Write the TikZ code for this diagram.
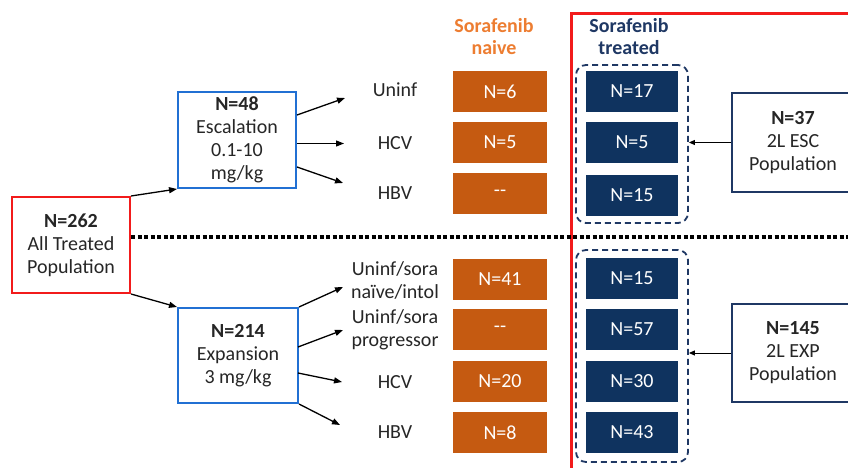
\documentclass[tikz,border=0pt]{standalone}
\usepackage{fontspec}
\setmainfont{Carlito}
\usetikzlibrary{arrows.meta}
\definecolor{orfill}{HTML}{C55A11}
\definecolor{orhead}{HTML}{ED7D31}
\definecolor{navyfill}{HTML}{0F335F}
\definecolor{navyhead}{HTML}{1F3864}
\definecolor{bluebox}{HTML}{2170D3}
\definecolor{txt}{HTML}{262626}
\definecolor{redline}{HTML}{F21B1B}
\begin{document}
\begin{tikzpicture}[x=1pt,y=-1pt,
  every node/.style={font=\fontsize{20}{23}\selectfont, text=txt},
  box/.style={draw, line width=2pt, fill=white, align=center, inner sep=0pt},
  obox/.style={fill=orfill, text=white, minimum width=94pt, minimum height=41pt, inner sep=0pt},
  nbox/.style={fill=navyfill, text=white, minimum width=92pt, minimum height=41pt, inner sep=0pt},
  grp/.style={draw=navyhead, line width=1.8pt, dash pattern=on 6pt off 4pt, rounded corners=10pt, minimum width=112pt, inner sep=0pt},
  lbl/.style={align=center, inner sep=0pt},
  arr/.style={-{Triangle[length=8pt,width=6pt]}, line width=1.3pt, draw=black},
  sarr/.style={-{Triangle[length=6pt,width=5pt]}, line width=1pt, draw=black},
  head/.style={align=center, font=\fontsize{20}{22}\selectfont\bfseries, inner sep=0pt}
]
\useasboundingbox (0,0) rectangle (848,468);
\fill[white] (0,0) rectangle (848,468);

% big red frame
\draw[redline, line width=3pt] (571,475) -- (571,14) -- (855,14);

% headers
\node[head, text=orhead] (hnaive) at (494,37) {Sorafenib\\naive};
\node[head, text=navyhead] (htreat) at (629,37) {Sorafenib\\treated};

% left boxes
\node[box, draw=redline, minimum width=118pt, minimum height=96pt] (all) at (71,245) {\textbf{N=262}\\All Treated\\Population};
\node[box, draw=bluebox, minimum width=118pt, minimum height=96pt] (esc) at (237,140) {\textbf{N=48}\\Escalation\\0.1-10\\mg/kg};
\node[box, draw=bluebox, minimum width=120pt, minimum height=95pt] (exp) at (238,355.5) {\textbf{N=214}\\Expansion\\3 mg/kg};

% dotted separator
\coordinate (dotend) at (850,237);
\draw[line width=3.5pt, dash pattern=on 4pt off 2.5pt] (all.east |- dotend) -- (dotend);

% arrows from all
\draw[arr] (all.north east) -- (esc.south west);
\draw[arr] (all.south east) -- (exp.north west);

% labels top
\node[lbl] (l1) at (395,90) {Uninf};
\node[lbl] (l2) at (395,143) {HCV};
\node[lbl] (l3) at (395,193) {HBV};
% labels bottom
\node[lbl] (m1) at (395,280.5) {Uninf/sora\\naïve/intol};
\node[lbl] (m2) at (395,329.5) {Uninf/sora\\progressor};
\node[lbl] (m3) at (395,382) {HCV};
\node[lbl] (m4) at (395,432) {HBV};

% arrow points
\coordinate (e1s) at (297,115); \coordinate (e1e) at (345,98);
\coordinate (e2s) at (297,143.5); \coordinate (e2e) at (344,143.5);
\coordinate (e3s) at (297,167); \coordinate (e3e) at (343,183);
\draw[arr] (e1s) -- (e1e);
\draw[arr] (e2s) -- (e2e);
\draw[arr] (e3s) -- (e3e);
\coordinate (x2s) at (298,347); \coordinate (x2e) at (343,330);
\coordinate (x3s) at (298,373); \coordinate (x3e) at (342,382);
\coordinate (x1e) at (343,287);
\coordinate (x4e) at (340,425);
\draw[arr] (exp.north east) -- (x1e);
\draw[arr] (x2s) -- (x2e);
\draw[arr] (x3s) -- (x3e);
\draw[arr] (exp.south east) -- (x4e);

% orange boxes
\node[obox] (o1) at (500,91.5) {N=6};
\node[obox] (o2) at (500,142.5) {N=5};
\node[obox] (o3) at (500,193) {-{}-};
\node[obox] (o4) at (500,279) {N=41};
\node[obox] (o5) at (500,329) {-{}-};
\node[obox] (o6) at (500,381.5) {N=20};
\node[obox] (o7) at (500,432.5) {N=8};

% dashed groups
\node[grp, minimum height=158pt] (g1) at (632,144) {};
\node[grp, minimum height=212pt] (g2) at (632,356) {};

% navy boxes
\node[nbox] (n1) at (632,91.5) {N=17};
\node[nbox] (n2) at (632,142.5) {N=5};
\node[nbox] (n3) at (632,195) {N=15};
\node[nbox] (n4) at (632,278.5) {N=15};
\node[nbox] (n5) at (632,329.5) {N=57};
\node[nbox] (n6) at (632,381) {N=30};
\node[nbox] (n7) at (632,432.5) {N=43};

% right boxes
\node[box, draw=navyhead, minimum width=124pt, minimum height=99pt] (r1) at (794,142.5) {};
\node[lbl] (r1t) at (793,142.5) {\textbf{N=37}\\2L ESC\\Population};
\node[box, draw=navyhead, minimum width=124pt, minimum height=98pt] (r2) at (794,353) {};
\node[lbl] (r2t) at (793,353) {\textbf{N=145}\\2L EXP\\Population};

\draw[sarr] (r1.west) -- (r1.west -| g1.east);
\draw[sarr] (r2.west) -- (r2.west -| g2.east);
\end{tikzpicture}
\end{document}
